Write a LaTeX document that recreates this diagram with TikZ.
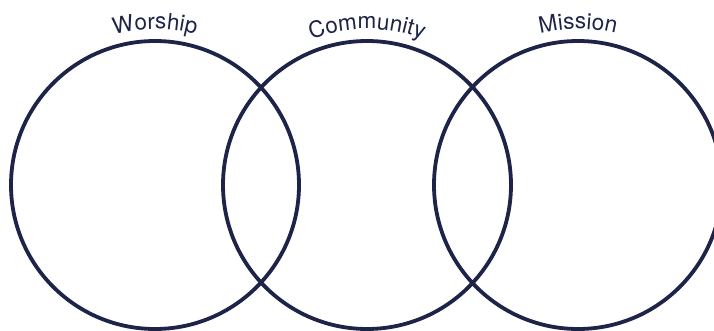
\documentclass[tikz,border=0pt]{standalone}
\usepackage{fontspec}
\setmainfont{TeX Gyre Heros}
\usetikzlibrary{positioning, decorations.text}

\definecolor{navy}{HTML}{1E2447}

\tikzset{
  ring/.style={circle, draw=navy, line width=3.8pt, minimum size=288pt, inner sep=0pt},
  arclabel/.style={decorate, decoration={text along path, text align=center,
      text color=navy}}
}

\begin{document}
\begin{tikzpicture}[x=1pt, y=1pt]
    \useasboundingbox (0,0) rectangle (714,330);
    \fill[white] (0,0) rectangle (714,330);

    % the three circles
    \node[ring] (worship) at (155,145) {};
    \node[ring] (community) at (367,145) {};
    \node[ring] (mission) at (578,145) {};

    % labels along the top
    \path[arclabel, decoration={text={|\fontsize{22.5}{26}\selectfont|Worship}}]
        (worship.center) ++(165:156) arc (165:15:156);
    \path[arclabel, decoration={text={|\fontsize{22.5}{26}\selectfont|Community}}]
        (community.center) ++(165:156) arc (165:15:156);
    \path[arclabel, decoration={text={|\fontsize{22.5}{26}\selectfont|Mission}}]
        (mission.center) ++(165:156) arc (165:15:156);
\end{tikzpicture}
\end{document}
